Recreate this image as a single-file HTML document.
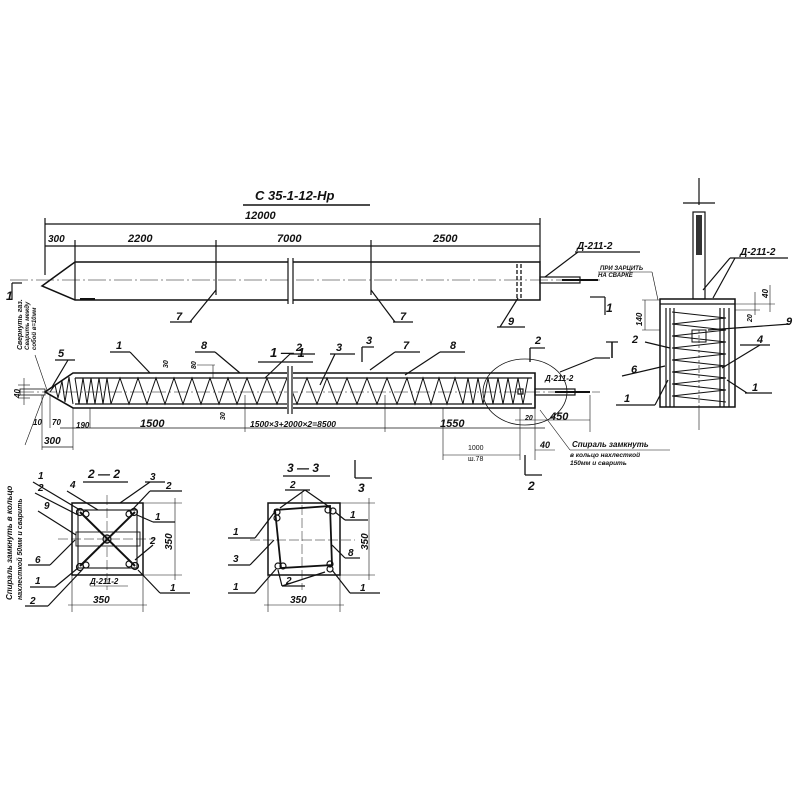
<!DOCTYPE html>
<html><head><meta charset="utf-8"><style>
html,body{margin:0;padding:0;background:#fff;width:800px;height:800px;overflow:hidden}
svg{display:block}
text{font-family:"Liberation Sans",sans-serif;font-style:italic;fill:#111;font-weight:bold}
</style></head><body>
<svg width="800" height="800" viewBox="0 0 800 800" xmlns="http://www.w3.org/2000/svg" stroke="#111" fill="none" stroke-width="1.2">
<text x="255" y="200" font-size="13" stroke="none">С 35-1-12-Нр</text>
<line x1="243" y1="205" x2="370" y2="205" stroke-width="1.4"/>
<line x1="45" y1="224" x2="540" y2="224"/>
<text x="245" y="219" font-size="11" stroke="none">12000</text>
<line x1="45" y1="218" x2="45" y2="275"/><line x1="540" y1="218" x2="540" y2="262"/>
<line x1="45" y1="246" x2="540" y2="246"/>
<line x1="75" y1="240" x2="75" y2="262"/><line x1="216" y1="240" x2="216" y2="295"/><line x1="371" y1="240" x2="371" y2="295"/>
<text x="48" y="242" font-size="10" stroke="none">300</text>
<text x="128" y="242" font-size="11" stroke="none">2200</text>
<text x="277" y="242" font-size="11" stroke="none">7000</text>
<text x="433" y="242" font-size="11" stroke="none">2500</text>
<path d="M75,262 L540,262 L540,300 L75,300 L42,286 L75,262 Z" stroke-width="1.5"/>
<line x1="75" y1="262" x2="75" y2="300"/>
<line x1="80" y1="299" x2="95" y2="299" stroke-width="2"/>
<line x1="10" y1="280" x2="600" y2="280" stroke-width="0.6" stroke-dasharray="18,3,2,3"/>
<line x1="290" y1="258" x2="290" y2="304" stroke="#fff" stroke-width="5"/>
<line x1="288" y1="258" x2="288" y2="304"/><line x1="293" y1="258" x2="293" y2="304"/>
<line x1="517" y1="264" x2="517" y2="298" stroke-dasharray="4,2" stroke-width="1.3"/>
<line x1="521" y1="264" x2="521" y2="298" stroke-dasharray="4,2" stroke-width="1.3"/>
<rect x="540" y="277" width="40" height="6" stroke-width="1.2"/>
<line x1="562" y1="280" x2="598" y2="280" stroke-width="2"/>
<line x1="545" y1="277" x2="578" y2="252"/><line x1="575" y1="252" x2="640" y2="252"/>
<text x="577" y="249" font-size="10" stroke="none">Д-211-2</text>
<text x="600" y="270" font-size="6" stroke="none">ПРИ ЗАРЦИТЬ</text>
<text x="598" y="277" font-size="6" stroke="none">НА СВАРКЕ</text>
<line x1="598" y1="272" x2="652" y2="272" stroke-width="0.6"/><line x1="652" y1="272" x2="658" y2="300" stroke-width="0.6"/>
<line x1="590" y1="297" x2="605" y2="297"/><line x1="605" y1="297" x2="605" y2="315"/>
<text x="606" y="312" font-size="12" stroke="none">1</text>
<line x1="12" y1="283" x2="22" y2="283"/><line x1="12" y1="283" x2="12" y2="300"/>
<text x="6" y="300" font-size="12" stroke="none">1</text>
<line x1="216" y1="290" x2="190" y2="322"/><line x1="170" y1="322" x2="192" y2="322"/>
<text x="176" y="320" font-size="11" stroke="none">7</text>
<line x1="371" y1="290" x2="395" y2="322"/><line x1="393" y1="322" x2="413" y2="322"/>
<text x="400" y="320" font-size="11" stroke="none">7</text>
<line x1="518" y1="298" x2="500" y2="327"/><line x1="497" y1="327" x2="525" y2="327"/>
<text x="508" y="325" font-size="11" stroke="none">9</text>
<text x="270" y="357" font-size="13" stroke="none">1 — 1</text>
<line x1="258" y1="362" x2="313" y2="362" stroke-width="1.2"/>
<path d="M73,373 L535,373 L535,408 L73,408 L45,392 Z" stroke-width="1.6"/>
<line x1="75" y1="378" x2="532" y2="378"/><line x1="75" y1="404" x2="532" y2="404"/>
<line x1="20" y1="392" x2="600" y2="392" stroke-width="0.5" stroke-dasharray="14,3,2,3"/>
<rect x="20" y="389" width="25" height="6" stroke-width="0.8"/>
<g id="zig" stroke-width="1"></g>
<line x1="290" y1="366" x2="290" y2="414" stroke="#fff" stroke-width="6"/>
<line x1="288" y1="366" x2="288" y2="414"/><line x1="292" y1="366" x2="292" y2="414"/>
<rect x="535" y="389" width="40" height="6" stroke-width="1.2"/>
<line x1="555" y1="392" x2="590" y2="392" stroke-width="2"/>
<rect x="518" y="389" width="5" height="5"/>
<ellipse cx="525" cy="392" rx="42" ry="33" stroke-width="0.8"/>
<line x1="560" y1="372" x2="595" y2="358"/><line x1="595" y1="358" x2="610" y2="358"/>
<line x1="612" y1="342" x2="612" y2="358" stroke-width="1.5"/><line x1="606" y1="342" x2="618" y2="342"/>
<text x="545" y="381" font-size="8" stroke="none">Д-211-2</text>
<line x1="52" y1="387" x2="68" y2="360"/><line x1="55" y1="360" x2="75" y2="360"/><text x="58" y="357" font-size="11" stroke="none">5</text>
<line x1="150" y1="373" x2="130" y2="352"/><line x1="110" y1="352" x2="130" y2="352"/><text x="116" y="349" font-size="11" stroke="none">1</text>
<line x1="240" y1="373" x2="215" y2="352"/><line x1="195" y1="352" x2="215" y2="352"/><text x="201" y="349" font-size="11" stroke="none">8</text>
<line x1="265" y1="378" x2="290" y2="354"/><line x1="290" y1="354" x2="315" y2="354"/><text x="296" y="351" font-size="11" stroke="none">2</text>
<line x1="320" y1="385" x2="335" y2="354"/><line x1="330" y1="354" x2="355" y2="354"/><text x="336" y="351" font-size="11" stroke="none">3</text>
<line x1="370" y1="370" x2="395" y2="352"/><line x1="395" y1="352" x2="420" y2="352"/><text x="403" y="349" font-size="11" stroke="none">7</text>
<line x1="405" y1="375" x2="440" y2="352"/><line x1="440" y1="352" x2="465" y2="352"/><text x="450" y="349" font-size="11" stroke="none">8</text>
<line x1="362" y1="347" x2="362" y2="362" stroke-width="1.3"/><line x1="362" y1="347" x2="374" y2="347"/><text x="366" y="344" font-size="11" stroke="none">3</text>
<line x1="530" y1="348" x2="530" y2="362" stroke-width="1.3"/><line x1="530" y1="348" x2="545" y2="348"/><text x="535" y="344" font-size="11" stroke="none">2</text>
<text x="168" y="368" font-size="7" stroke="none" transform="rotate(-90 168 368)">30</text>
<text x="196" y="369" font-size="7" stroke="none" transform="rotate(-90 196 369)">80</text>
<line x1="197" y1="365" x2="215" y2="365" stroke-width="0.6"/><line x1="213" y1="365" x2="213" y2="378" stroke-width="0.6"/>
<text x="225" y="420" font-size="7" stroke="none" transform="rotate(-90 225 420)">30</text>
<line x1="18" y1="385" x2="30" y2="385" stroke-width="0.6"/><line x1="18" y1="398" x2="30" y2="398" stroke-width="0.6"/><line x1="24" y1="378" x2="24" y2="405" stroke-width="0.6"/>
<text x="20" y="398" font-size="8" stroke="none" transform="rotate(-90 20 398)">40</text>
<line x1="60" y1="428" x2="545" y2="428" stroke-width="0.8"/>
<line x1="42" y1="395" x2="42" y2="450" stroke-width="0.6"/><line x1="50" y1="395" x2="50" y2="428" stroke-width="0.6"/>
<line x1="73" y1="408" x2="73" y2="450" stroke-width="0.6"/><line x1="90" y1="408" x2="90" y2="428" stroke-width="0.6"/>
<line x1="245" y1="395" x2="245" y2="432" stroke-width="0.6"/><line x1="385" y1="395" x2="385" y2="432" stroke-width="0.6"/>
<line x1="443" y1="408" x2="443" y2="460" stroke-width="0.6"/>
<line x1="520" y1="408" x2="520" y2="460" stroke-width="0.6"/><line x1="535" y1="408" x2="535" y2="460" stroke-width="0.6"/>
<line x1="590" y1="395" x2="590" y2="432" stroke-width="0.6"/>
<line x1="515" y1="420" x2="590" y2="420" stroke-width="0.6"/>
<text x="33" y="425" font-size="8" stroke="none">10</text>
<text x="52" y="425" font-size="8" stroke="none">70</text>
<text x="76" y="428" font-size="8" stroke="none">190</text>
<text x="140" y="427" font-size="11" stroke="none">1500</text>
<text x="250" y="427" font-size="8.5" stroke="none">1500×3+2000×2=8500</text>
<text x="440" y="427" font-size="11" stroke="none">1550</text>
<text x="525" y="420" font-size="7" stroke="none">20</text>
<text x="550" y="420" font-size="11" stroke="none">450</text>
<line x1="42" y1="447" x2="73" y2="447" stroke-width="0.8"/>
<text x="44" y="444" font-size="10" stroke="none">300</text>
<line x1="443" y1="455" x2="520" y2="455" stroke-width="0.6"/>
<text x="468" y="450" font-size="7" stroke="none" style="font-style:normal;font-weight:normal">1000</text>
<text x="468" y="461" font-size="7" stroke="none" style="font-style:normal;font-weight:normal">ш.78</text>
<line x1="535" y1="450" x2="555" y2="450" stroke-width="0.6"/>
<text x="540" y="448" font-size="9" stroke="none">40</text>
<line x1="540" y1="410" x2="570" y2="450" stroke-width="0.6"/><line x1="570" y1="450" x2="670" y2="450" stroke-width="0.6"/>
<text x="572" y="447" font-size="8" stroke="none">Спираль замкнуть</text>
<text x="570" y="457" font-size="6.5" stroke="none">в кольцо нахлесткой</text>
<text x="570" y="465" font-size="6.5" stroke="none">150мм и сварить</text>
<line x1="525" y1="455" x2="525" y2="475" stroke-width="1.3"/><line x1="525" y1="475" x2="542" y2="475"/><text x="528" y="490" font-size="12" stroke="none">2</text>
<line x1="355" y1="460" x2="355" y2="478" stroke-width="1.3"/><line x1="355" y1="478" x2="372" y2="478"/><text x="358" y="492" font-size="12" stroke="none">3</text>
<text x="0" y="0" font-size="7" stroke="none" transform="translate(22 350) rotate(-90)">Свернуть газ.</text>
<text x="0" y="0" font-size="6" stroke="none" transform="translate(29 350) rotate(-90)">Сварить между</text>
<text x="0" y="0" font-size="6" stroke="none" transform="translate(36 350) rotate(-90)">собой в=10мм</text>
<line x1="35" y1="355" x2="47" y2="390" stroke-width="0.6"/>
<text x="0" y="0" font-size="8" stroke="none" transform="translate(12 600) rotate(-90)">Спираль замкнуть в кольцо</text>
<text x="0" y="0" font-size="7" stroke="none" transform="translate(22 600) rotate(-90)">нахлесткой 50мм и сварить</text>
<line x1="25" y1="445" x2="44" y2="395" stroke-width="0.6"/>
<line x1="699" y1="178" x2="699" y2="205"/><line x1="683" y1="203" x2="715" y2="203"/>
<rect x="693" y="212" width="12" height="87"/><rect x="696" y="215" width="6" height="40" fill="#333" stroke="none"/>
<rect x="660" y="299" width="75" height="108" stroke-width="1.5"/>
<line x1="660" y1="304" x2="735" y2="304"/>
<line x1="666" y1="308" x2="666" y2="407"/><line x1="670" y1="308" x2="670" y2="407"/><line x1="674" y1="308" x2="674" y2="407"/>
<line x1="720" y1="308" x2="720" y2="407"/><line x1="724" y1="308" x2="724" y2="407"/><line x1="729" y1="308" x2="729" y2="407"/>
<polyline points="672,312 726,318 672,324 726,330 672,336 726,342 672,348 726,354 672,360 726,366 672,372 726,378 672,384 726,390 672,396 726,402" stroke-width="0.9"/>
<rect x="692" y="330" width="14" height="12" stroke-width="1"/>
<line x1="699" y1="330" x2="699" y2="407" stroke-dasharray="3,2" stroke-width="0.6"/>
<line x1="699" y1="407" x2="699" y2="430" stroke-width="0.6"/>
<line x1="703" y1="290" x2="730" y2="258"/><line x1="713" y1="298" x2="735" y2="258"/><line x1="730" y1="258" x2="788" y2="258"/>
<text x="740" y="255" font-size="10" stroke="none">Д-211-2</text>
<line x1="642" y1="300" x2="660" y2="300" stroke-width="0.6"/><line x1="642" y1="330" x2="660" y2="330" stroke-width="0.6"/><line x1="645" y1="300" x2="645" y2="330" stroke-width="0.6"/>
<text x="0" y="0" font-size="8" stroke="none" transform="translate(642 326) rotate(-90)">140</text>
<line x1="735" y1="304" x2="775" y2="304" stroke-width="0.6"/><line x1="735" y1="310" x2="760" y2="310" stroke-width="0.6"/>
<line x1="755" y1="292" x2="755" y2="315" stroke-width="0.6"/><line x1="770" y1="285" x2="770" y2="312" stroke-width="0.6"/>
<text x="0" y="0" font-size="7" stroke="none" transform="translate(752 322) rotate(-90)">20</text>
<text x="0" y="0" font-size="8" stroke="none" transform="translate(768 298) rotate(-90)">40</text>
<line x1="708" y1="330" x2="790" y2="324"/><text x="786" y="325" font-size="11" stroke="none">9</text>
<line x1="645" y1="342" x2="670" y2="348"/><text x="632" y="343" font-size="11" stroke="none">2</text>
<line x1="722" y1="368" x2="760" y2="345"/><line x1="740" y1="345" x2="770" y2="345"/><text x="757" y="343" font-size="11" stroke="none">4</text>
<line x1="622" y1="376" x2="665" y2="366"/><text x="631" y="373" font-size="11" stroke="none">6</text>
<line x1="616" y1="405" x2="655" y2="405"/><line x1="655" y1="405" x2="668" y2="380"/><text x="624" y="402" font-size="11" stroke="none">1</text>
<line x1="727" y1="380" x2="747" y2="393"/><line x1="745" y1="393" x2="772" y2="393"/><text x="752" y="391" font-size="11" stroke="none">1</text>
<text x="88" y="478" font-size="12" stroke="none">2 — 2</text>
<line x1="83" y1="482" x2="128" y2="482" stroke-width="1.2"/>
<rect x="72" y="503" width="71" height="72" stroke-width="1.5"/>
<rect x="78" y="510" width="59" height="58" stroke-width="1.1"/>
<line x1="80" y1="512" x2="135" y2="566" stroke-width="2"/><line x1="135" y1="512" x2="80" y2="566" stroke-width="2"/>
<rect x="76" y="532" width="64" height="14" stroke-width="0.9"/>
<circle cx="80" cy="512" r="3.5"/><circle cx="86" cy="514" r="3"/><circle cx="134" cy="512" r="3.5"/><circle cx="129" cy="514" r="3"/>
<circle cx="80" cy="567" r="3.5"/><circle cx="86" cy="565" r="3"/><circle cx="135" cy="566" r="3.5"/><circle cx="129" cy="564" r="3"/>
<circle cx="107" cy="539" r="4"/>
<line x1="107" y1="495" x2="107" y2="590" stroke-width="0.5" stroke-dasharray="10,3"/><line x1="58" y1="539" x2="155" y2="539" stroke-width="0.5" stroke-dasharray="10,3"/>
<line x1="143" y1="503" x2="182" y2="503" stroke-width="0.6"/><line x1="143" y1="575" x2="182" y2="575" stroke-width="0.6"/><line x1="175" y1="498" x2="175" y2="580" stroke-width="0.6"/>
<text x="0" y="0" font-size="10" stroke="none" transform="translate(172 550) rotate(-90)">350</text>
<line x1="72" y1="575" x2="72" y2="612" stroke-width="0.6"/><line x1="143" y1="575" x2="143" y2="612" stroke-width="0.6"/><line x1="68" y1="605" x2="147" y2="605" stroke-width="0.6"/>
<text x="93" y="603" font-size="10" stroke="none">350</text>
<text x="90" y="584" font-size="8" stroke="none">Д-211-2</text><line x1="90" y1="586" x2="128" y2="586" stroke-width="0.6"/>
<line x1="33" y1="482" x2="80" y2="510"/><text x="38" y="479" font-size="10" stroke="none">1</text>
<line x1="35" y1="493" x2="78" y2="515"/><text x="38" y="491" font-size="10" stroke="none">2</text>
<line x1="38" y1="511" x2="76" y2="535"/><text x="44" y="509" font-size="10" stroke="none">9</text>
<line x1="67" y1="491" x2="98" y2="510"/><text x="70" y="488" font-size="10" stroke="none">4</text>
<line x1="120" y1="503" x2="150" y2="482"/><line x1="145" y1="482" x2="165" y2="482"/><text x="150" y="480" font-size="10" stroke="none">3</text>
<line x1="132" y1="510" x2="150" y2="491"/><line x1="150" y1="491" x2="182" y2="491"/><text x="166" y="489" font-size="10" stroke="none">2</text>
<line x1="137" y1="515" x2="153" y2="522"/><line x1="153" y1="522" x2="175" y2="522"/><text x="155" y="520" font-size="10" stroke="none">1</text>
<line x1="135" y1="560" x2="153" y2="545"/><text x="150" y="544" font-size="10" stroke="none">2</text>
<line x1="28" y1="565" x2="50" y2="565"/><line x1="50" y1="565" x2="75" y2="540"/><text x="35" y="563" font-size="10" stroke="none">6</text>
<line x1="30" y1="587" x2="55" y2="587"/><line x1="55" y1="587" x2="78" y2="568"/><text x="35" y="584" font-size="10" stroke="none">1</text>
<line x1="25" y1="606" x2="48" y2="606"/><line x1="48" y1="606" x2="82" y2="570"/><text x="30" y="604" font-size="10" stroke="none">2</text>
<line x1="138" y1="570" x2="160" y2="593"/><line x1="160" y1="593" x2="190" y2="593"/><text x="170" y="591" font-size="10" stroke="none">1</text>
<text x="287" y="472" font-size="12" stroke="none">3 — 3</text>
<line x1="283" y1="476" x2="330" y2="476" stroke-width="1.2"/>
<rect x="268" y="503" width="72" height="72" stroke-width="1.5"/>
<path d="M275,510 L330,506 L332,565 L281,568 Z" stroke-width="1.8"/>
<circle cx="277" cy="512" r="3"/><circle cx="277" cy="518" r="3"/><circle cx="328" cy="510" r="3"/><circle cx="333" cy="511" r="3"/>
<circle cx="278" cy="566" r="3"/><circle cx="283" cy="566" r="3"/><circle cx="330" cy="564" r="3"/><circle cx="330" cy="569" r="3"/>
<line x1="302" y1="492" x2="302" y2="590" stroke-width="0.5" stroke-dasharray="10,3"/><line x1="250" y1="540" x2="355" y2="540" stroke-width="0.5" stroke-dasharray="10,3"/>
<line x1="340" y1="503" x2="375" y2="503" stroke-width="0.6"/><line x1="340" y1="575" x2="375" y2="575" stroke-width="0.6"/><line x1="369" y1="498" x2="369" y2="580" stroke-width="0.6"/>
<text x="0" y="0" font-size="10" stroke="none" transform="translate(368 550) rotate(-90)">350</text>
<line x1="268" y1="575" x2="268" y2="612" stroke-width="0.6"/><line x1="340" y1="575" x2="340" y2="612" stroke-width="0.6"/><line x1="264" y1="605" x2="344" y2="605" stroke-width="0.6"/>
<text x="290" y="603" font-size="10" stroke="none">350</text>
<line x1="305" y1="490" x2="280" y2="508"/><line x1="305" y1="490" x2="328" y2="506"/><line x1="285" y1="490" x2="310" y2="490"/><text x="290" y="488" font-size="10" stroke="none">2</text>
<line x1="335" y1="512" x2="345" y2="520"/><line x1="345" y1="520" x2="368" y2="520"/><text x="350" y="518" font-size="10" stroke="none">1</text>
<line x1="228" y1="538" x2="255" y2="538"/><line x1="255" y1="538" x2="274" y2="513"/><text x="233" y="535" font-size="10" stroke="none">1</text>
<line x1="228" y1="565" x2="250" y2="565"/><line x1="250" y1="565" x2="274" y2="540"/><text x="233" y="562" font-size="10" stroke="none">3</text>
<line x1="332" y1="545" x2="345" y2="558"/><line x1="345" y1="558" x2="360" y2="558"/><text x="348" y="556" font-size="10" stroke="none">8</text>
<line x1="228" y1="593" x2="255" y2="593"/><line x1="255" y1="593" x2="276" y2="569"/><text x="233" y="590" font-size="10" stroke="none">1</text>
<line x1="278" y1="570" x2="282" y2="586"/><line x1="325" y1="572" x2="282" y2="586"/><line x1="282" y1="586" x2="305" y2="586"/><text x="286" y="584" font-size="10" stroke="none">2</text>
<line x1="332" y1="570" x2="350" y2="593"/><line x1="350" y1="593" x2="380" y2="593"/><text x="360" y="591" font-size="10" stroke="none">1</text>
</svg>
<script>
(function(){
var g=document.getElementById('zig'),p=[],x=75,top=378,bot=404,i=0;
function step(x){if(x<110)return 4;if(x<230)return 9;if(x<400)return 10;if(x<460)return 8;return 5;}
while(x<532){p.push(x+','+(i%2?bot:top));x+=step(x);i++;}
var pl=document.createElementNS('http://www.w3.org/2000/svg','polyline');
pl.setAttribute('points',p.join(' '));g.appendChild(pl);
var t=document.createElementNS('http://www.w3.org/2000/svg','polyline');
t.setAttribute('points','50,392 55,385 58,398 62,381 65,402 69,377 73,404');g.appendChild(t);
})();
</script>
</body></html>
